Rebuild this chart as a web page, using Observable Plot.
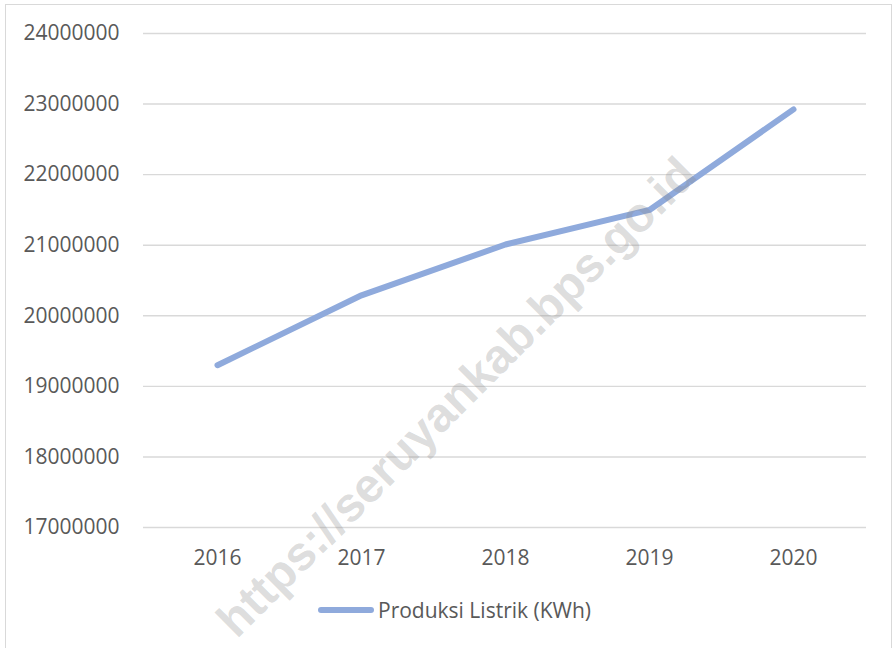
<!DOCTYPE html>
<html>
<head>
<meta charset="utf-8">
<script src="https://cdn.jsdelivr.net/npm/d3@7"></script>
<script src="https://cdn.jsdelivr.net/npm/@observablehq/plot@0.6"></script>
<style>
  html, body { margin: 0; padding: 0; background: #fff; }
  body { width: 895px; height: 648px; position: relative; overflow: hidden; font-family: "Open Sans", sans-serif; }
  #frame { position: absolute; left: 5px; top: 4px; width: 887px; height: 660px; border: 1px solid #d9d9d9; box-sizing: border-box; }
  #chart { position: absolute; left: 0; top: 0; }
  #legend { position: absolute; left: 318px; top: 596px; display: flex; align-items: center; color: #595959; font-size: 21px; font-family: "Open Sans", sans-serif; }
  #legend .sw { width: 56px; height: 6px; border-radius: 3px; background: #8faadc; margin-right: 4px; }
</style>
</head>
<body>
<div id="frame"></div>
<div id="legend"></div>
<div id="chart"></div>
<script>
const years = ["2016", "2017", "2018", "2019", "2020"];
const production = [19300000, 20290000, 21010000, 21500000, 22925000];
const yTicks = [17000000, 18000000, 19000000, 20000000, 21000000, 22000000, 23000000, 24000000];
const seriesName = "Produksi Listrik (KWh)";
const watermark = "https://seruyankab.bps.go.id";

const data = years.map((y, i) => ({year: y, value: production[i]}));
const lineColor = "#8faadc";

const chart = Plot.plot({
  width: 895,
  height: 648,
  marginLeft: 143,
  marginRight: 29,
  marginTop: 33,
  marginBottom: 121,
  style: {fontFamily: "Open Sans, sans-serif", fontSize: "21px", color: "#595959", background: "transparent"},
  x: {type: "point", domain: years, padding: 0.5, label: null},
  y: {domain: [17000000, 24000000], label: null},
  marks: [
    Plot.gridY(yTicks, {stroke: "#d9d9d9", strokeOpacity: 1, strokeWidth: 1.4}),
    Plot.axisY(yTicks, {tickSize: 0, tickPadding: 24, tickFormat: d3.format("d"), label: null, fill: "#595959"}),
    Plot.axisX({tickSize: 0, tickPadding: 23, label: null, fill: "#595959"}),
    Plot.line(data, {x: "year", y: "value", stroke: lineColor, strokeWidth: 6, strokeLinecap: "round", strokeLinejoin: "round"}),
    Plot.text([watermark], {
      text: d => d, frameAnchor: "middle", dx: -48, dy: 117, rotate: -45,
      fontSize: 48, fontWeight: "bold", fontFamily: "Liberation Sans, Arial, sans-serif",
      fill: "#8c8c8c", fillOpacity: 0.3
    })
  ]
});
chart.style.pointerEvents = "none";
document.getElementById("chart").appendChild(chart);

const legend = document.getElementById("legend");
const sw = document.createElement("div");
sw.className = "sw";
const lbl = document.createElement("span");
lbl.textContent = seriesName;
legend.appendChild(sw);
legend.appendChild(lbl);
</script>
</body>
</html>
